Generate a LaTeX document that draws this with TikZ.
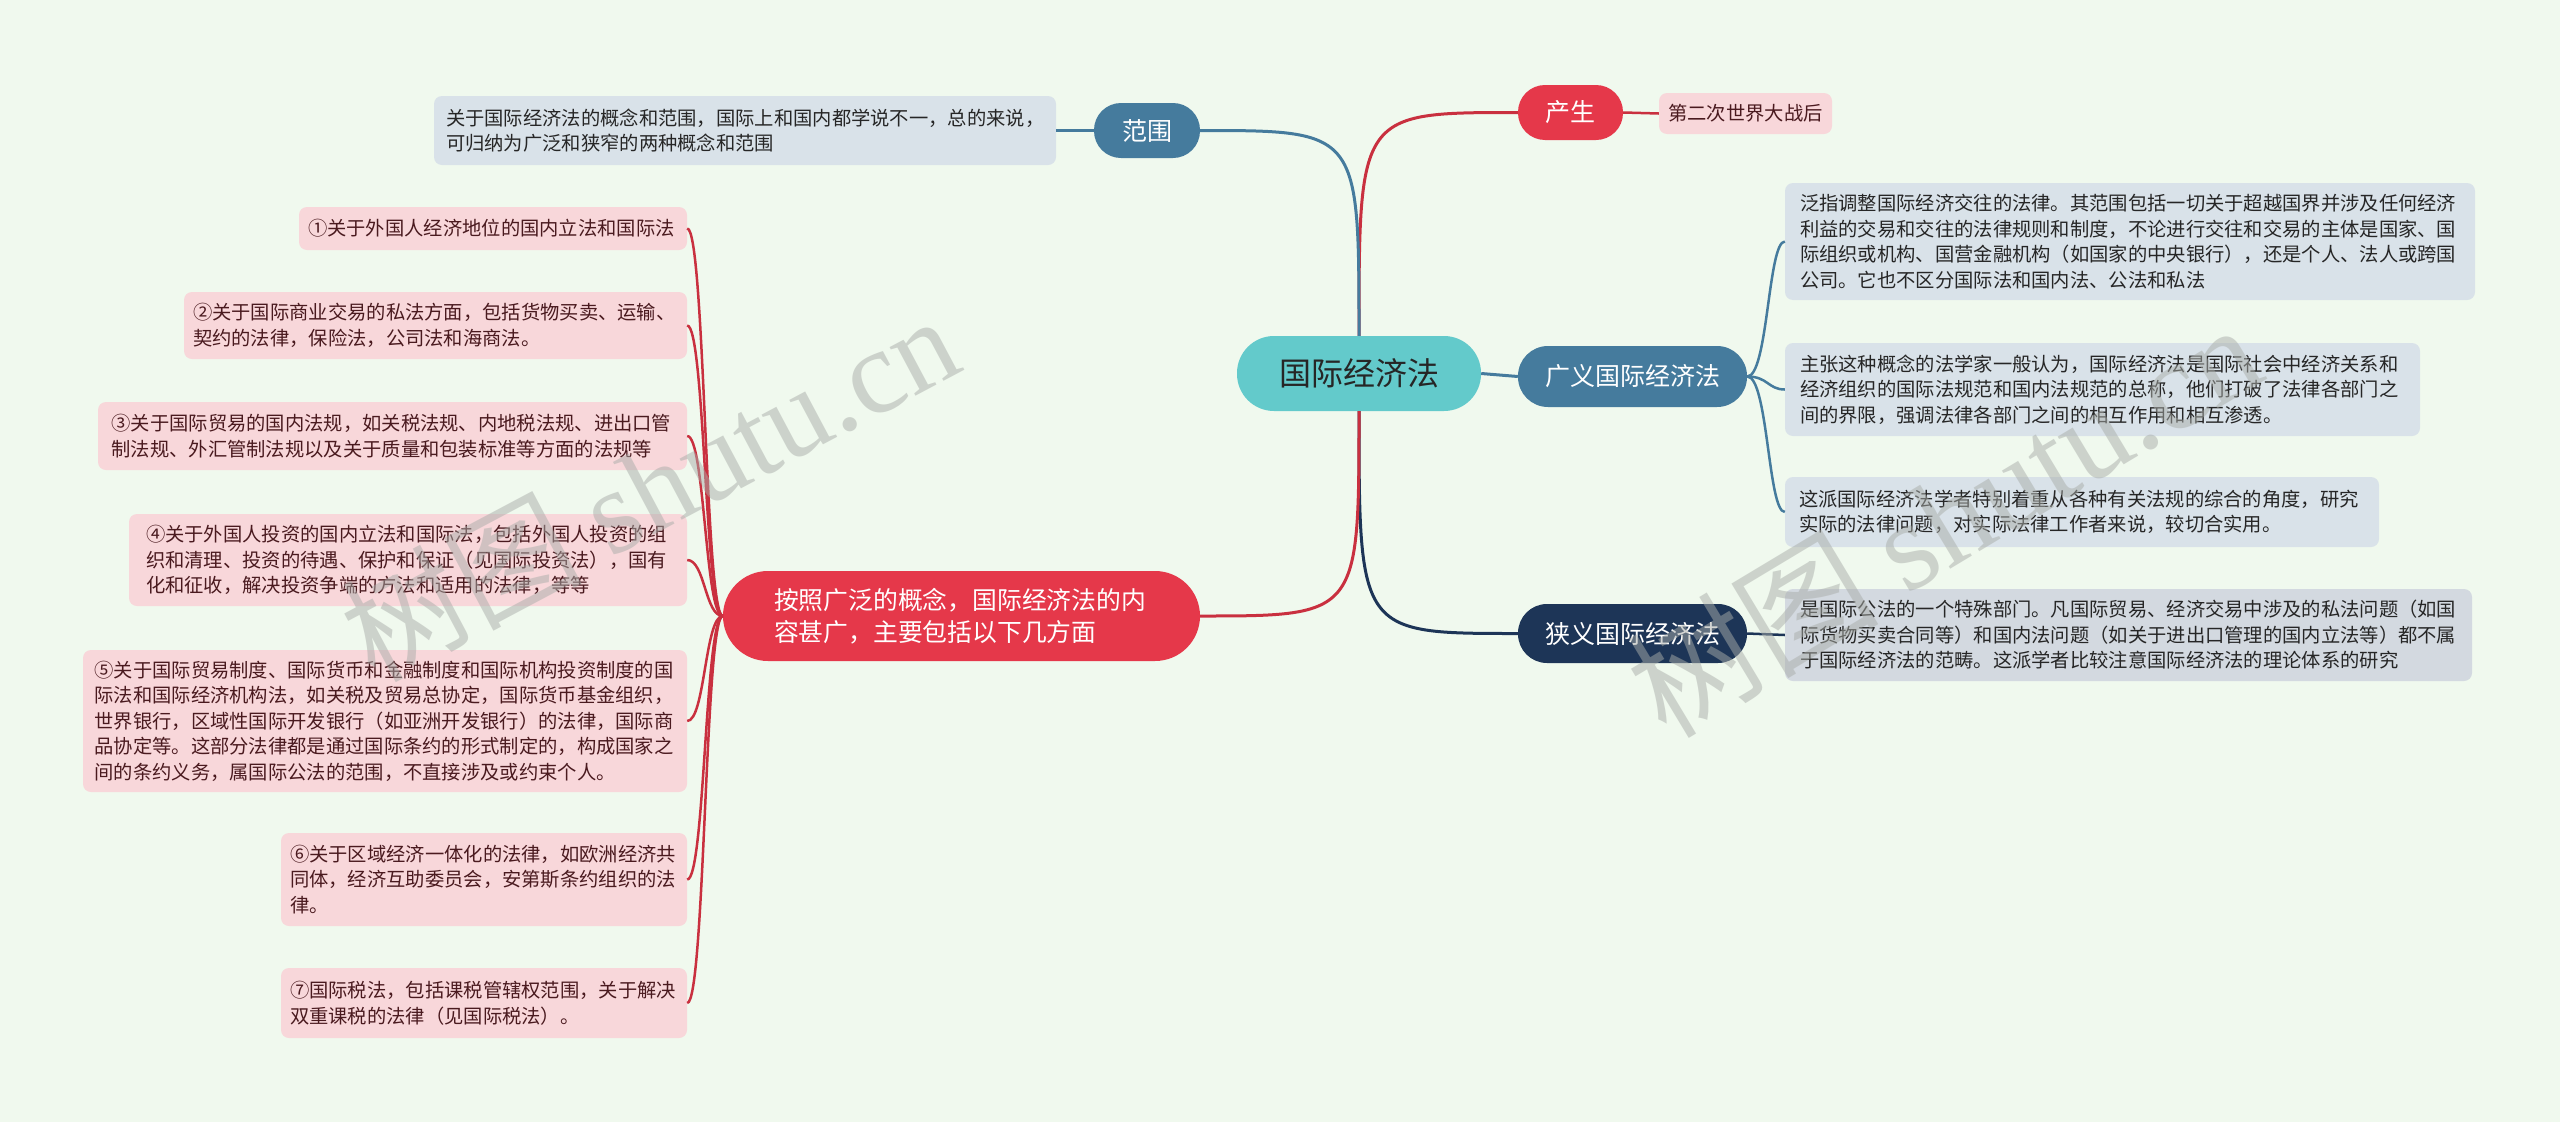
\documentclass[tikz,border=0pt]{standalone}
\usepackage{fontspec}
\setmainfont{Noto Sans CJK SC}
\newfontfamily\wmserif{Liberation Serif}
\definecolor{bg}{HTML}{F0F9EE}
\definecolor{teal}{HTML}{63CACB}
\definecolor{redn}{HTML}{E5384A}
\definecolor{redl}{HTML}{C9303F}
\definecolor{steel}{HTML}{457B9D}
\definecolor{navy}{HTML}{1D3557}
\definecolor{boxblue}{HTML}{D9E2E9}
\definecolor{boxgray}{HTML}{D3D9E0}
\definecolor{boxpink}{HTML}{F8D7DA}
\definecolor{txt}{HTML}{262626}
\definecolor{pinktxt}{HTML}{4A1A1F}
\definecolor{wmgray}{HTML}{A9ADA9}
\begin{document}
\begin{tikzpicture}[x=1pt,y=-1pt,
  small/.style={font=\fontsize{19.3}{25.5}\selectfont, align=left, inner xsep=0pt, inner ysep=0pt, rounded corners=8pt},
  bbox/.style={small, fill=boxblue, text=txt},
  gbox/.style={small, fill=boxgray, text=txt},
  pbox/.style={small, fill=boxpink, text=pinktxt},
  pill/.style={inner sep=0pt, font=\fontsize{25}{32}\selectfont, text=white, align=center},
  conn/.style={line width=3pt},
  subconn/.style={line width=2.5pt},
  wm/.style={text=wmgray, opacity=0.5, inner sep=0pt}
]
\useasboundingbox (0,0) rectangle (2560,1122);
\fill[bg] (0,0) rectangle (2560,1122);

% main nodes
\node[fill=teal, rounded corners=37pt, minimum width=244pt, minimum height=75pt, inner sep=0pt, font=\fontsize{32}{38}\selectfont, text=txt] (root) at (1359,373.5) {国际经济法};
\node[pill, fill=redn, rounded corners=27pt, minimum width=105pt, minimum height=55pt] (chan) at (1570.5,112.5) {产生};
\node[pbox, minimum width=173pt, minimum height=41pt] (chant) at (1745.5,113.5) {第二次世界大战后};
\node[pill, fill=steel, rounded corners=27pt, minimum width=106pt, minimum height=55pt] (fw) at (1147,130.5) {范围};
\node[bbox, text width=598pt, minimum width=622pt, minimum height=69pt] (fwt) at (745,130.5) {关于国际经济法的概念和范围，国际上和国内都学说不一，总的来说，\\可归纳为广泛和狭窄的两种概念和范围};
\node[pill, fill=steel, rounded corners=30pt, minimum width=229pt, minimum height=61pt] (gy) at (1632.5,376.5) {广义国际经济法};
\node[pill, fill=navy, rounded corners=29pt, minimum width=229pt, minimum height=59pt] (xy) at (1632.5,633.5) {狭义国际经济法};
\node[pill, fill=redn, rounded corners=45pt, minimum width=477pt, minimum height=90pt, text width=375pt, align=left, font=\fontsize{24.8}{32}\selectfont] (big) at (961.5,616) {按照广泛的概念，国际经济法的内\\容甚广，主要包括以下几方面};

% right texts
\node[bbox, text width=660pt, minimum width=690pt, minimum height=117pt] (r1) at (2130,241.5) {泛指调整国际经济交往的法律。其范围包括一切关于超越国界并涉及任何经济\\利益的交易和交往的法律规则和制度，不论进行交往和交易的主体是国家、国\\际组织或机构、国营金融机构（如国家的中央银行），还是个人、法人或跨国\\公司。它也不区分国际法和国内法、公法和私法};
\node[bbox, text width=605pt, minimum width=635pt, minimum height=93pt] (r2) at (2102.5,389.5) {主张这种概念的法学家一般认为，国际经济法是国际社会中经济关系和\\经济组织的国际法规范和国内法规范的总称，他们打破了法律各部门之\\间的界限，强调法律各部门之间的相互作用和相互渗透。};
\node[bbox, text width=566pt, minimum width=594pt, minimum height=70pt] (r3) at (2082,512) {这派国际经济法学者特别着重从各种有关法规的综合的角度，研究\\实际的法律问题，对实际法律工作者来说，较切合实用。};
\node[gbox, text width=657pt, minimum width=687pt, minimum height=92pt] (r4) at (2128.5,635) {是国际公法的一个特殊部门。凡国际贸易、经济交易中涉及的私法问题（如国\\际货物买卖合同等）和国内法问题（如关于进出口管理的国内立法等）都不属\\于国际经济法的范畴。这派学者比较注意国际经济法的理论体系的研究};

% left items
\node[pbox, text width=370pt, minimum width=388pt, minimum height=43pt] (i1) at (493,228.5) {①关于外国人经济地位的国内立法和国际法};
\node[pbox, text width=485pt, minimum width=503pt, minimum height=67pt] (i2) at (435.5,325.5) {②关于国际商业交易的私法方面，包括货物买卖、运输、\\契约的法律，保险法，公司法和海商法。};
\node[pbox, text width=562pt, minimum width=589pt, minimum height=68pt] (i3) at (392.5,436) {③关于国际贸易的国内法规，如关税法规、内地税法规、进出口管\\制法规、外汇管制法规以及关于质量和包装标准等方面的法规等};
\node[pbox, text width=524pt, minimum width=558pt, minimum height=92pt] (i4) at (408,560) {④关于外国人投资的国内立法和国际法，包括外国人投资的组\\织和清理、投资的待遇、保护和保证（见国际投资法），国有\\化和征收，解决投资争端的方法和适用的法律，等等};
\node[pbox, text width=581pt, minimum width=604pt, minimum height=142pt] (i5) at (385,721) {⑤关于国际贸易制度、国际货币和金融制度和国际机构投资制度的国\\际法和国际经济机构法，如关税及贸易总协定，国际货币基金组织，\\世界银行，区域性国际开发银行（如亚洲开发银行）的法律，国际商\\品协定等。这部分法律都是通过国际条约的形式制定的，构成国家之\\间的条约义务，属国际公法的范围，不直接涉及或约束个人。};
\node[pbox, text width=388pt, minimum width=406pt, minimum height=93pt] (i6) at (484,879.5) {⑥关于区域经济一体化的法律，如欧洲经济共\\同体，经济互助委员会，安第斯条约组织的法\\律。};
\node[pbox, text width=388pt, minimum width=406pt, minimum height=70pt] (i7) at (484,1003) {⑦国际税法，包括课税管辖权范围，关于解决\\双重课税的法律（见国际税法）。};

% connectors from root
\draw[conn, redl] (root.north) .. controls (1359,112.5) .. (chan.west);
\draw[conn, steel] (root.north) .. controls (1359,130.5) .. (fw.east);
\draw[conn, steel] (root.east) -- (gy.west);
\draw[conn, navy] (root.south) .. controls (1359,633.5) .. (xy.west);
\draw[conn, redl] (root.south) .. controls (1359,616) .. (big.east);

% short connectors
\draw[subconn, redl] (chan.east) -- (chant.west);
\draw[subconn, steel] (fw.west) -- (fwt.east);
\draw[subconn, navy] (xy.east) -- (r4.west);

% right branches
\draw[subconn, steel] (gy.east) .. controls (1768,376.5) and (1768,241.5) .. (r1.west);
\draw[subconn, steel] (gy.east) .. controls (1768,376.5) and (1768,389.5) .. (r2.west);
\draw[subconn, steel] (gy.east) .. controls (1768,376.5) and (1768,512) .. (r3.west);

% left branches
\foreach \n in {i1,i2,i3,i4,i5,i6,i7}{
  \draw[subconn, redl] (big.west) .. controls (705,616) and (705,0 |- \n.east) .. (\n.east);
}

% watermarks
\node[wm, rotate=28, font=\fontsize{120}{120}\selectfont] (wm1) at (649,486) {树图 {\wmserif shutu.cn}};
\node[wm, rotate=31, font=\fontsize{126}{126}\selectfont] (wm2) at (1943,518) {树图 {\wmserif shutu.cn}};
\end{tikzpicture}
\end{document}
